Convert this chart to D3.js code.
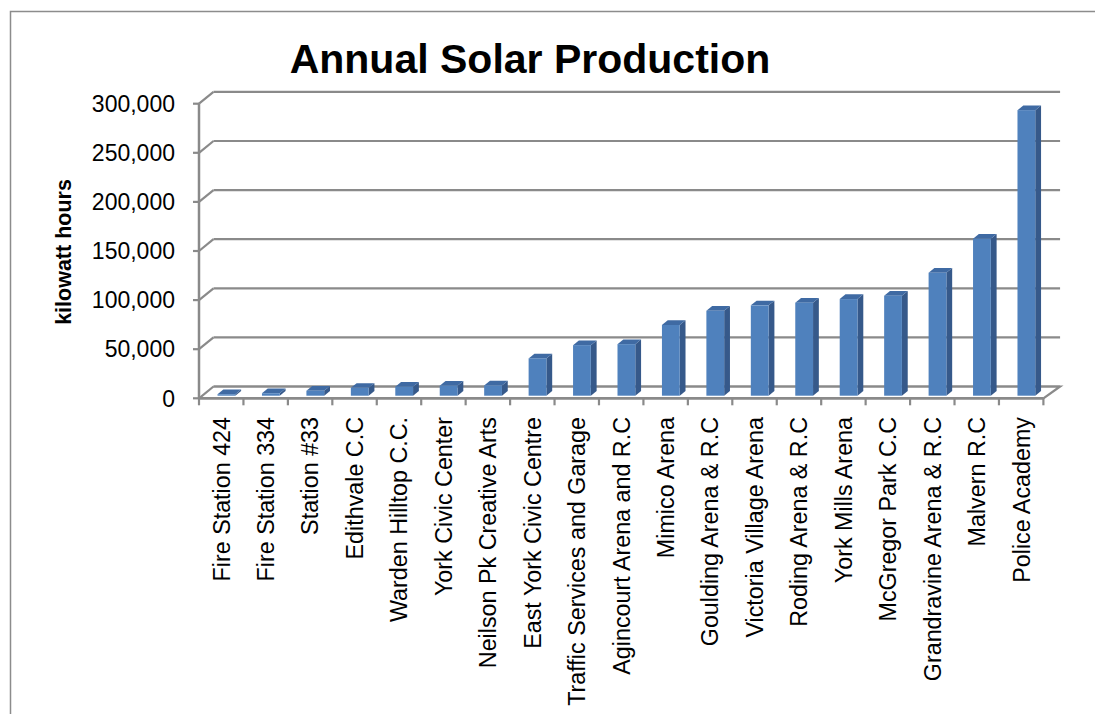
<!DOCTYPE html>
<html><head><meta charset="utf-8">
<script src="https://cdn.jsdelivr.net/npm/d3@7"></script>
<style>
html,body{margin:0;padding:0;background:#fff;}
svg{display:block;}
text{font-family:"Liberation Sans",Arial,sans-serif;fill:#000;}
</style></head>
<body>
<svg id="chart" width="1095" height="714"></svg>
<script>
const categories = ["Fire Station 424","Fire Station 334","Station #33","Edithvale C.C","Warden Hilltop C.C.","York Civic Center","Neilson Pk Creative Arts","East York Civic Centre","Traffic Services and Garage","Agincourt Arena and R.C","Mimico Arena","Goulding Arena & R.C","Victoria Village Arena","Roding Arena & R.C","York Mills Arena","McGregor Park C.C","Grandravine Arena & R.C","Malvern R.C","Police Academy"];
const values = [1500, 2500, 5000, 8000, 9200, 10200, 10500, 38000, 51500, 52500, 72000, 86500, 92000, 94700, 98400, 101800, 125200, 159800, 290800];
const yTicks = [0, 50000, 100000, 150000, 200000, 250000, 300000];
const titleText = "Annual Solar Production";
const yLabel = "kilowatt hours";

(function(){
const svg = d3.select("#chart");
const W = 1095, H = 714;

svg.append("rect").attr("x",10.5).attr("y",11.5).attr("width",W+20).attr("height",H+20)
  .attr("fill","none").attr("stroke","#8c8c8c").attr("stroke-width",1.5);

const pL = 199, pR = 1043.4, pB = 398.3, pT = 103.7;
const DX = 14.5, DY = -11.8;

const x = d3.scaleBand().domain(categories).range([pL, pR]).paddingInner(0).paddingOuter(0);
const y = d3.scaleLinear().domain([0, 300000]).range([pB, pT]);

const grid = "#8a8a8a";

const g = svg.append("g");
yTicks.forEach(t => {
  const yy = y(t);
  g.append("line").attr("x1", pL+DX).attr("x2", pR+DX*1.15).attr("y1", yy+DY).attr("y2", yy+DY)
    .attr("stroke", grid).attr("stroke-width", 2.2);
  g.append("line").attr("x1", pL).attr("y1", yy).attr("x2", pL+DX).attr("y2", yy+DY)
    .attr("stroke", grid).attr("stroke-width", 2.2);
});
g.append("path").attr("d", d3.line()([[pL, pB],[pR, pB],[pR+DX*1.15, pB+DY],[pL+DX, pB+DY]]))
  .attr("fill","none").attr("stroke", grid).attr("stroke-width", 2.2);

const bw = x.bandwidth()*0.4;
const tf = 0.22, tb = 0.62;
const bars = svg.append("g");
categories.forEach((c, i) => {
  const v = values[i];
  const x0 = x(c) + x.bandwidth()/2 - bw/2 + 2 + DX*tf;
  const x1 = x0 + bw;
  const yb = y(0) + DY*tf;
  const yt = y(v) + DY*tf;
  const ddx = DX*(tb-tf), ddy = DY*(tb-tf);
  bars.append("path").attr("d", d3.line()([[x1,yb],[x1,yt],[x1+ddx,yt+ddy],[x1+ddx,yb+ddy]])+"Z")
    .attr("fill","#36598a");
  bars.append("path").attr("d", d3.line()([[x0,yt],[x1,yt],[x1+ddx,yt+ddy],[x0+ddx,yt+ddy]])+"Z")
    .attr("fill","#3f6aa3");
  bars.append("rect").attr("x", x0).attr("y", yt).attr("width", bw).attr("height", Math.max(0, yb-yt))
    .attr("fill","#4f81bd");
});

const ax = svg.append("g");
ax.append("line").attr("x1", pL).attr("x2", pL).attr("y1", y(300000)).attr("y2", pB)
  .attr("stroke", grid).attr("stroke-width", 2.5);
ax.append("line").attr("x1", pL).attr("x2", pR).attr("y1", pB).attr("y2", pB)
  .attr("stroke", grid).attr("stroke-width", 2.5);
yTicks.forEach(t => {
  ax.append("line").attr("x1", pL-6).attr("x2", pL).attr("y1", y(t)).attr("y2", y(t))
    .attr("stroke", grid).attr("stroke-width", 2.2);
  ax.append("text").attr("x", 175).attr("y", y(t)).attr("dy","0.36em").attr("text-anchor","end")
    .style("font-size","23px").text(d3.format(",")(t));
});
const bTicks = categories.map(c => x(c)).concat([pR]);
bTicks.forEach(px => {
  ax.append("line").attr("x1", px).attr("x2", px).attr("y1", pB).attr("y2", pB+7)
    .attr("stroke", grid).attr("stroke-width", 2.2);
});
categories.forEach(c => {
  const cx = x(c) + x.bandwidth()/2;
  ax.append("text").attr("transform", `translate(${cx},417) rotate(-90)`)
    .attr("text-anchor","end").attr("dy","0.36em")
    .style("font-size","23.3px").text(c);
});

svg.append("text").attr("x", 530).attr("y", 73).attr("text-anchor","middle")
  .style("font-size","41px").style("font-weight","bold").text(titleText);
svg.append("text").attr("transform","translate(63,252) rotate(-90)").attr("text-anchor","middle")
  .attr("dy","0.36em").style("font-size","21.5px").style("font-weight","bold").text(yLabel);
})();
</script>
</body></html>
